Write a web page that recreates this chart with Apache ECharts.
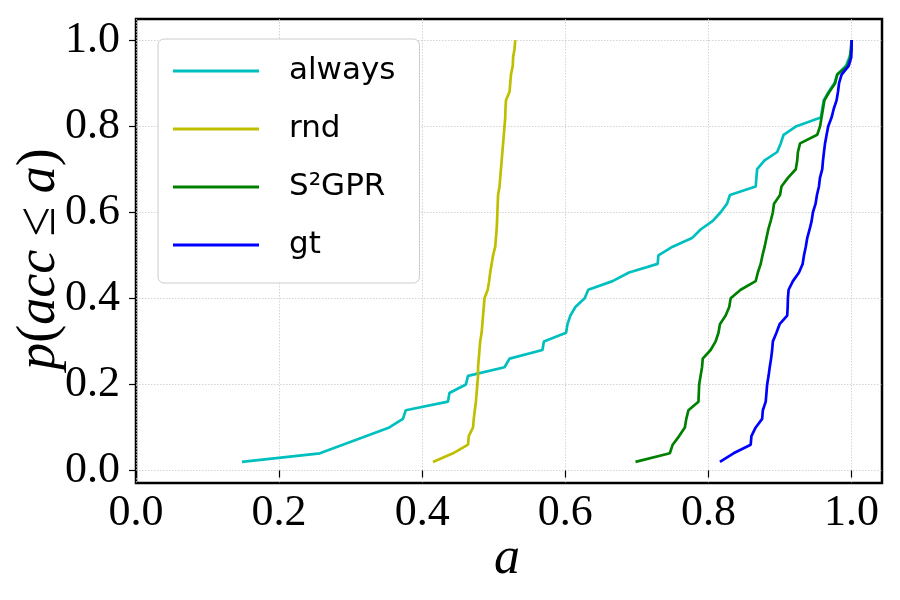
<!DOCTYPE html>
<html>
<head>
<meta charset="utf-8">
<script src="https://cdn.jsdelivr.net/npm/echarts@6/dist/echarts.min.js"></script>
<style>
html,body{margin:0;padding:0;background:#fff;}
#chart{width:900px;height:600px;}
</style>
</head>
<body>
<div id="chart"></div>
<script>
// ECDF levels p(acc <= a)
const levels = [0.02,0.04,0.06,0.08,0.10,0.12,0.14,0.16,0.18,0.20,
                0.22,0.24,0.26,0.28,0.30,0.32,0.34,0.36,0.38,0.40,
                0.42,0.44,0.46,0.48,0.50,0.52,0.54,0.56,0.58,0.60,
                0.62,0.64,0.66,0.68,0.70,0.72,0.74,0.76,0.78,0.80,
                0.82,0.84,0.86,0.88,0.90,0.92,0.94,0.96,0.98,1.00];

const seriesNames = ['always', 'rnd', 'S²GPR', 'gt'];

const alwaysA = [0.148,0.257,0.289,0.322,0.354,0.373,0.377,0.436,0.438,0.461,
                 0.464,0.515,0.522,0.568,0.570,0.601,0.603,0.607,0.614,0.627,
                 0.632,0.666,0.689,0.729,0.730,0.750,0.777,0.789,0.806,0.817,
                 0.826,0.830,0.866,0.867,0.868,0.878,0.896,0.901,0.905,0.923,
                 0.957,0.959,0.961,0.968,0.976,0.980,0.992,0.997,1.000,1.000];

const rndA = [0.415,0.443,0.464,0.465,0.471,0.472,0.4735,0.475,0.476,0.477,
              0.478,0.478,0.479,0.480,0.481,0.483,0.484,0.485,0.486,0.487,
              0.4915,0.4935,0.495,0.497,0.499,0.502,0.503,0.504,0.5046,0.505,
              0.5055,0.506,0.508,0.509,0.510,0.511,0.512,0.513,0.514,0.515,
              0.516,0.5163,0.517,0.522,0.523,0.524,0.5265,0.527,0.529,0.530];

const s2gprA = [0.698,0.746,0.750,0.759,0.767,0.769,0.772,0.786,0.7865,0.787,
                0.789,0.791,0.792,0.803,0.810,0.814,0.816,0.824,0.829,0.831,
                0.845,0.866,0.869,0.873,0.8755,0.8785,0.881,0.8836,0.887,0.890,
                0.8916,0.900,0.902,0.911,0.922,0.924,0.925,0.928,0.952,0.956,
                0.958,0.960,0.962,0.969,0.977,0.980,0.994,0.998,0.999,1.000];

const gtA = [0.816,0.835,0.859,0.860,0.866,0.875,0.876,0.880,0.881,0.882,
             0.884,0.8856,0.8875,0.889,0.890,0.895,0.8994,0.910,0.9107,0.911,
             0.912,0.918,0.9265,0.9316,0.9335,0.936,0.938,0.9413,0.9442,0.946,
             0.9497,0.9516,0.9544,0.9558,0.959,0.960,0.9614,0.9629,0.9651,0.9674,
             0.972,0.975,0.979,0.981,0.9825,0.986,0.996,0.9995,1.000,1.000];

const xTicks = [0.0, 0.2, 0.4, 0.6, 0.8, 1.0];
const yTicks = [0.0, 0.2, 0.4, 0.6, 0.8, 1.0];

const colors = ['#00bfbf', '#bfbf00', '#008000', '#0000ff'];
const seriesX = [alwaysA, rndA, s2gprA, gtA];

const chart = echarts.init(document.getElementById('chart'), null, {renderer: 'canvas'});

const tickFont = {fontFamily: 'Liberation Serif', fontSize: 44, color: '#000'};

const option = {
  animation: false,
  backgroundColor: '#fff',
  grid: {
    left: 136, right: 18, top: 19, bottom: 117,
    show: true, borderColor: '#000', borderWidth: 2.5, backgroundColor: 'transparent'
  },
  xAxis: {
    type: 'value', min: 0, max: 1.0425,
    axisLine: {show: false},
    axisTick: {show: true, length: 7, lineStyle: {color: '#000', width: 1.2}, customValues: xTicks},
    axisLabel: Object.assign({margin: 8, customValues: xTicks, formatter: v => v.toFixed(1)}, tickFont),
    splitLine: {show: true, lineStyle: {color: '#c8c8c8', width: 0.8, type: [1.5, 1.5]}}
  },
  yAxis: {
    type: 'value', min: -0.029, max: 1.049,
    axisLine: {show: false},
    axisTick: {show: true, length: 7, lineStyle: {color: '#000', width: 1.2}, customValues: yTicks},
    axisLabel: Object.assign({margin: 16, customValues: yTicks, formatter: v => v.toFixed(1)}, tickFont),
    splitLine: {show: true, lineStyle: {color: '#c8c8c8', width: 0.8, type: [1.5, 1.5]}}
  },
  legend: {
    orient: 'vertical',
    left: 158, top: 39,
    icon: 'rect',
    itemWidth: 86, itemHeight: 3,
    itemGap: 22,
    padding: [14, 24, 20, 15],
    backgroundColor: '#fff',
    borderColor: '#cccccc', borderWidth: 1, borderRadius: 6,
    textStyle: {fontFamily: 'DejaVu Sans', fontSize: 31, color: '#000', lineHeight: 36, padding: [0, 0, 0, 25]},
    data: seriesNames
  },
  graphic: [
    {
      type: 'text', x: 40, y: 259, rotation: Math.PI / 2,
      style: {
        text: '{i|p}{r|(}{i|acc}{r| ≤ }{i|a}{r|)}',
        align: 'center', verticalAlign: 'middle',
        rich: {
          i: {fontFamily: 'Liberation Serif', fontStyle: 'italic', fontSize: 54, fill: '#000'},
          r: {fontFamily: 'Liberation Serif', fontSize: 54, fill: '#000'}
        }
      }
    },
    {
      type: 'text', x: 507, y: 559,
      style: {
        text: 'a', align: 'center', verticalAlign: 'middle',
        fontFamily: 'Liberation Serif', fontStyle: 'italic', fontSize: 52, fill: '#000'
      }
    }
  ],
  series: seriesNames.map((name, k) => ({
    name: name,
    type: 'line',
    showSymbol: false,
    symbol: 'none',
    color: colors[k],
    lineStyle: {width: 2.7, color: colors[k]},
    data: seriesX[k].map((x, i) => [x, levels[i]])
  }))
};

chart.setOption(option);
</script>
</body>
</html>
